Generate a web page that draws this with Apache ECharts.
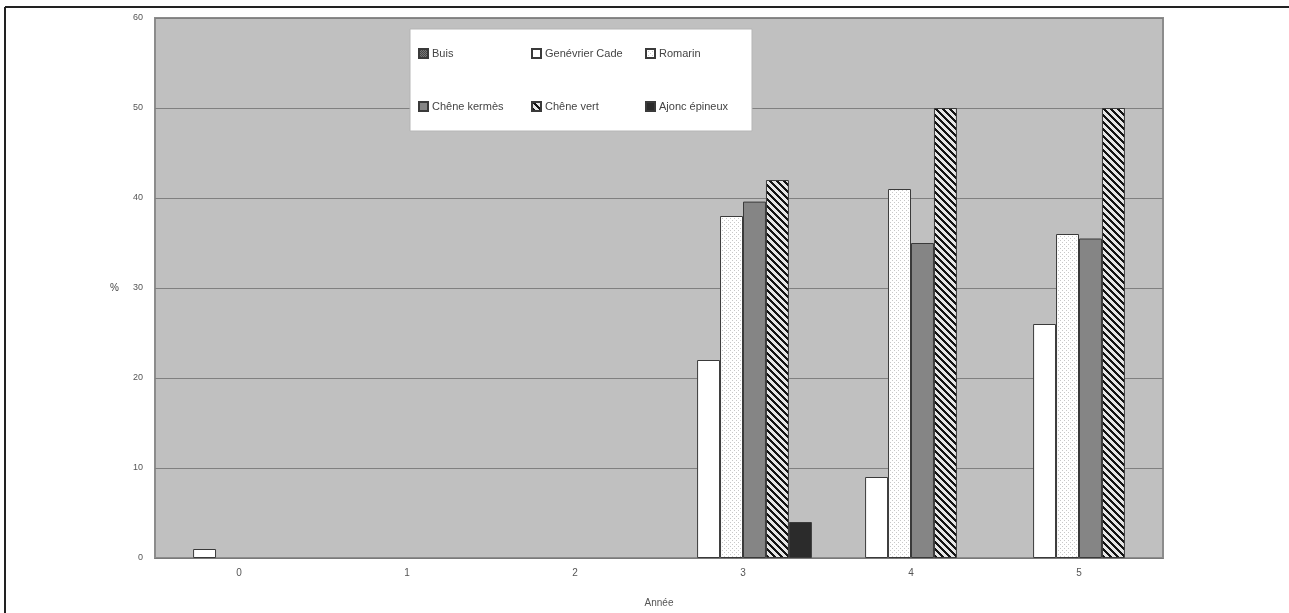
<!DOCTYPE html>
<html>
<head>
<meta charset="utf-8">
<script src="https://cdn.jsdelivr.net/npm/echarts@6/dist/echarts.min.js"></script>
<style>
html,body{margin:0;padding:0;background:#fff;}
#c{width:1289px;height:613px;}
</style>
</head>
<body>
<div id="c"></div>
<script>
// ---- data ----
const years = ['0', '1', '2', '3', '4', '5'];
const seriesNames = ['Buis', 'Genévrier Cade', 'Romarin', 'Chêne kermès', 'Chêne vert', 'Ajonc épineux'];
const buis       = [0, 0, 0, 0, 0, 0];
const genevrier  = [1, 0, 0, 22, 9, 26];
const romarin    = [0, 0, 0, 38, 41, 36];
const kermes     = [0, 0, 0, 39.6, 35, 35.5];
const chenevert  = [0, 0, 0, 42, 50, 50];
const ajonc      = [0, 0, 0, 4, 0, 0];
const yTicks = [0, 10, 20, 30, 40, 50, 60];

// ---- patterns ----
function makeTile(size, fn) {
  const c = document.createElement('canvas');
  c.width = size; c.height = size;
  const ctx = c.getContext('2d');
  const img = ctx.createImageData(size, size);
  for (let y = 0; y < size; y++) {
    for (let x = 0; x < size; x++) {
      const v = fn(x, y);
      const i = (y * size + x) * 4;
      img.data[i] = v; img.data[i + 1] = v; img.data[i + 2] = v; img.data[i + 3] = 255;
    }
  }
  ctx.putImageData(img, 0, 0);
  return c;
}
const hatch = makeTile(7, (x, y) => (((x - y) % 7 + 7) % 7) < 3 ? 20 : 230);
const dots = makeTile(4, (x, y) => ((x === 0 && y === 0) || (x === 2 && y === 2)) ? 200 : 255);
const buisTile = makeTile(2, (x, y) => ((x + y) % 2 === 0) ? 70 : 120);

const fills = [
  { image: buisTile, repeat: 'repeat' },
  '#ffffff',
  { image: dots, repeat: 'repeat' },
  '#858585',
  { image: hatch, repeat: 'repeat' },
  '#2b2b2b'
];
const values = [buis, genevrier, romarin, kermes, chenevert, ajonc];

const chart = echarts.init(document.getElementById('c'), null, { renderer: 'canvas' });

// zero values are not drawn (as in the original chart)
const series = seriesNames.map((n, i) => ({
  name: n,
  type: 'bar',
  data: values[i].map(v => (v === 0 ? null : v)),
  barGap: '0%',
  barCategoryGap: '18%',
  itemStyle: { color: fills[i], borderColor: '#3a3a3a', borderWidth: 1 },
  emphasis: { disabled: true },
  animation: false
}));

const legPos = [
  [418, 48], [531, 48], [645, 48],
  [418, 101], [531, 101], [645, 101]
];
const legends = seriesNames.map((n, i) => ({
  data: [{ name: n, icon: 'rect' }],
  left: legPos[i][0],
  top: legPos[i][1],
  itemWidth: 9,
  itemHeight: 9,
  itemGap: 4,
  padding: 0,
  z: 60,
  selectedMode: false,
  textStyle: { fontSize: 11, color: '#444', fontFamily: 'Liberation Sans Narrow, Liberation Sans, sans-serif', padding: [0, 0, 0, -1] }
}));

chart.setOption({
  animation: false,
  backgroundColor: '#ffffff',
  graphic: [
    { type: 'line', shape: { x1: 5, y1: 7, x2: 1289, y2: 7 }, style: { stroke: '#222', lineWidth: 2 } },
    { type: 'line', shape: { x1: 5, y1: 7, x2: 5, y2: 613 }, style: { stroke: '#222', lineWidth: 2 } },
    { type: 'rect', shape: { x: 410, y: 29, width: 342, height: 102 }, style: { fill: '#ffffff', stroke: '#b5b5b5', lineWidth: 1 }, z: 50 }
  ],
  legend: legends,
  grid: {
    left: 155, right: 126, top: 18, bottom: 50,
    show: true,
    backgroundColor: '#c0c0c0',
    borderColor: '#8c8c8c',
    borderWidth: 2
  },
  xAxis: {
    type: 'category',
    data: years,
    name: 'Année',
    nameLocation: 'middle',
    nameGap: 40,
    nameTextStyle: { fontSize: 10, color: '#555', fontFamily: 'Liberation Sans Narrow, Liberation Sans, sans-serif' },
    axisLine: { show: true, lineStyle: { color: '#7a7a7a', width: 1 } },
    axisTick: { show: false },
    axisLabel: { fontSize: 10, color: '#555', margin: 10 }
  },
  yAxis: {
    type: 'value',
    min: yTicks[0],
    max: yTicks[yTicks.length - 1],
    interval: 10,
    name: '%',
    nameLocation: 'middle',
    nameRotate: 0,
    nameGap: 36,
    nameTextStyle: { fontSize: 10, color: '#444' },
    axisLine: { show: false },
    axisTick: { show: false },
    axisLabel: { fontSize: 9, color: '#555', margin: 12 },
    splitLine: { show: true, lineStyle: { color: '#808080', width: 1 } }
  },
  series: series
});
</script>
</body>
</html>
